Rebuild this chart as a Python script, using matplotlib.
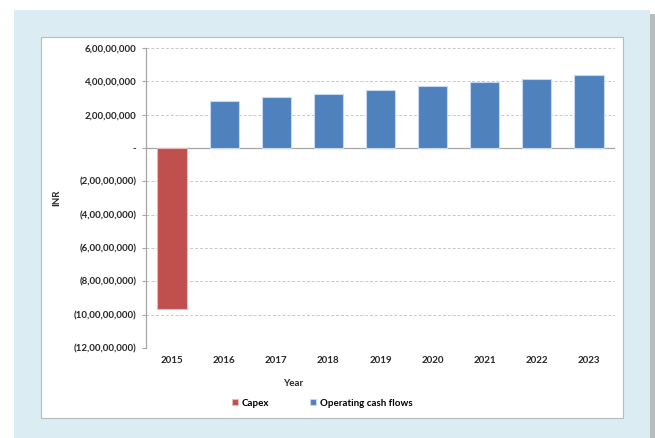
import numpy as np
import matplotlib.pyplot as plt
from matplotlib.patches import Rectangle
from matplotlib.ticker import FuncFormatter, FixedLocator

years = ['2015', '2016', '2017', '2018', '2019', '2020', '2021', '2022', '2023']
capex = [-96500000, 0, 0, 0, 0, 0, 0, 0, 0]
operating = [0, 28400000, 30400000, 32600000, 34800000, 37000000, 39400000, 41600000, 44000000]
yticks = [60000000, 40000000, 20000000, 0, -20000000, -40000000,
          -60000000, -80000000, -100000000, -120000000]

plt.rcParams['font.family'] = ['Lato', 'DejaVu Sans']
plt.rcParams['font.weight'] = 'bold'


def inr(v, pos=None):
    # indian digit grouping, negatives in brackets, zero as a dash
    v = int(round(v))
    if v == 0:
        return '-'
    s = str(abs(v))
    head, tail = s[:-3], s[-3:]
    parts = []
    while len(head) > 2:
        parts.insert(0, head[-2:])
        head = head[:-2]
    if head:
        parts.insert(0, head)
    txt = ','.join(parts + [tail])
    return '(' + txt + ')' if v < 0 else txt


W, H = 655, 438
fig = plt.figure(figsize=(W / 100, H / 100), dpi=100)

# background panels (pixel coords -> figure fraction)
def px_rect(x0, y0, x1, y1, **kw):
    fig.patches.append(Rectangle((x0 / W, 1 - y1 / H), (x1 - x0) / W, (y1 - y0) / H,
                                 transform=fig.transFigure, zorder=-5, **kw))

px_rect(650, 14, 655, 438, facecolor='#b8bcbf', edgecolor='none')
px_rect(14, 10, 650, 438, facecolor='#dbecf2', edgecolor='none')
px_rect(41, 37, 623, 418, facecolor='white', edgecolor='#b4bcc2', linewidth=0.8)

ax = fig.add_axes([146 / W, 1 - 348 / H, (615 - 146) / W, 300 / H])
ax.set_zorder(5)
ax.set_facecolor('none')

x = np.arange(len(years))
bw = 0.56
cap = np.array(capex, dtype=float)
opr = np.array(operating, dtype=float)
ax.bar(x[cap != 0], cap[cap != 0], width=bw, color='#c0504d', edgecolor='#e6b9b8',
       linewidth=0.8, label='Capex', zorder=3)
ax.bar(x[opr != 0], opr[opr != 0], width=bw, color='#4f81bd', edgecolor='#c6d9f1',
       linewidth=0.8, label='Operating cash flows', zorder=3)

ax.set_xlim(-0.5, len(years) - 0.5)
ax.set_ylim(-120000000, 60000000)
ax.yaxis.set_major_locator(FixedLocator(yticks))
ax.yaxis.set_major_formatter(FuncFormatter(inr))
ax.set_xticks(x)
ax.set_xticklabels(years)

ax.grid(axis='y', color='#c8c8c8', linestyle=(0, (3, 2)), linewidth=0.7, zorder=0)
ax.axhline(0, color='#a6a6a6', linewidth=0.9, zorder=2)
for s in ['top', 'right', 'bottom']:
    ax.spines[s].set_visible(False)
ax.spines['left'].set_color('#a6a6a6')
ax.spines['left'].set_linewidth(0.9)

ax.tick_params(axis='y', length=3, width=0.8, color='#a6a6a6', pad=4, labelsize=7,
               labelcolor='#262626')
ax.tick_params(axis='x', length=0, pad=6, labelsize=7, labelcolor='#262626')

ax.set_ylabel('INR', fontsize=7, fontweight='bold', color='#262626')
ax.yaxis.set_label_coords(-(146 - 61) / (615 - 146), 0.5)

fig.text(293 / W, 1 - 384 / H, 'Year', ha='center', va='center', fontsize=7,
         fontweight='bold', color='#262626')

fig.legend(loc='center', bbox_to_anchor=(322 / W, 1 - 403 / H), ncol=2, frameon=False,
           fontsize=7, handlelength=0.6, handleheight=0.6, handletextpad=0.4,
           columnspacing=4.2)

fig.savefig('out.png', dpi=100)
